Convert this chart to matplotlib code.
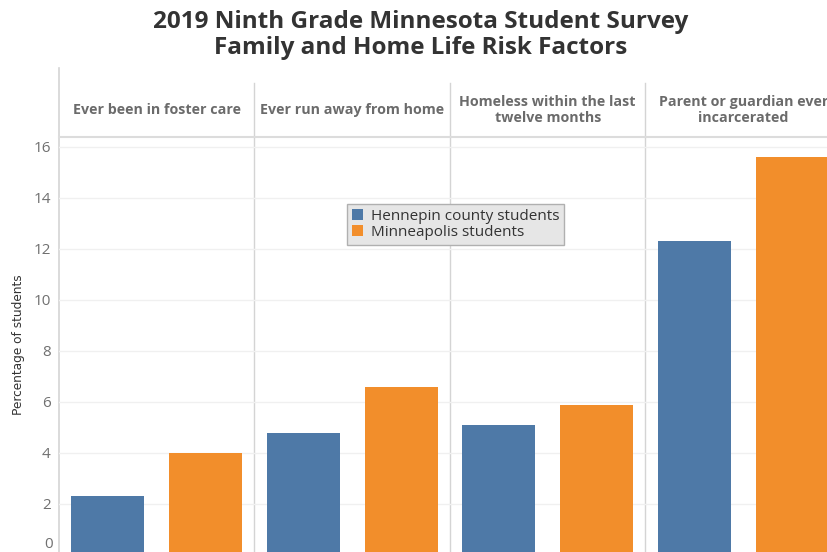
import matplotlib.pyplot as plt
import numpy as np

categories = [
    "Ever been in foster care",
    "Ever run away from home",
    "Homeless within the last\ntwelve months",
    "Parent or guardian ever\nincarcerated",
]
hennepin = [2.3, 4.8, 5.1, 12.3]
minneapolis = [4.0, 6.6, 5.9, 15.6]
series_names = ["Hennepin county students", "Minneapolis students"]
yticks = [0, 2, 4, 6, 8, 10, 12, 14, 16]
title_lines = ["2019 Ninth Grade Minnesota Student Survey",
               "Family and Home Life Risk Factors"]

BLUE = "#4e79a7"
ORANGE = "#f28e2b"
W, H = 828, 552

fig = plt.figure(figsize=(W / 100, H / 100), dpi=100)
# axes runs past the right and bottom edge, the reference is cropped there
left, right, top, bottom = 59, 841, 137, 555
ax = fig.add_axes([left / W, (H - bottom) / H, (right - left) / W, (bottom - top) / H])

x = np.arange(len(categories))
bw = 0.374
ax.bar(x + 0.25, hennepin, width=bw, color=BLUE, label=series_names[0], zorder=3)
ax.bar(x + 0.75, minneapolis, width=bw, color=ORANGE, label=series_names[1], zorder=3)

ymax = 16.39
ax.set_xlim(0, len(categories))
ax.set_ylim(0, ymax)
ax.set_xticks([])
ax.set_yticks(yticks)
# the zero label sits below the crop, draw it a bit higher by hand
ax.set_yticklabels([""] + [str(t) for t in yticks[1:]], fontsize=11, color="#707070",
                   family="Open Sans")
ax.annotate("0", xy=(0, 0), xycoords=("axes fraction", "data"), xytext=(-6, 11),
            textcoords="offset pixels", ha="right", va="center", fontsize=11,
            color="#707070", family="Open Sans", annotation_clip=False)
ax.tick_params(axis="y", length=0, pad=6)
ax.yaxis.grid(True, color="#f0f0f0", lw=1, zorder=0)
for s in ax.spines.values():
    s.set_visible(False)

# panel dividers and header frame
span = bottom - top
for i in range(1, len(categories)):
    ax.axvline(i, ymin=0, ymax=(bottom - 83) / span, color="#d4d4d4",
               lw=1, clip_on=False, zorder=1)
ax.axvline(0, ymin=0, ymax=(bottom - 68) / span, color="#d4d4d4",
           lw=1.2, clip_on=False, zorder=1)
ax.axhline(ymax, color="#dcdcdc", lw=1.5, clip_on=False)

for i, cat in enumerate(categories):
    ax.text(i + 0.5, (bottom - 110) / span, cat, transform=ax.get_xaxis_transform(),
            ha="center", va="center", fontsize=10.3, fontweight="bold", color="#6b6b6b",
            family="Open Sans", linespacing=1.1, clip_on=False)

ax.set_ylabel("Percentage of students", fontsize=8.7, color="#333333",
              family="Liberation Sans Narrow")
ax.yaxis.set_label_coords(-34 / (right - left), (bottom - 345) / span)

for line, base in zip(title_lines, [28, 54]):
    fig.text(421 / W, 1 - base / H, line, ha="center", va="baseline",
             fontsize=17.5, fontweight="bold", color="#333333", family="Open Sans")

leg = ax.legend(loc="upper left", bbox_to_anchor=((347 - left) / (right - left), (bottom - 204) / span),
                frameon=True, handlelength=0.75, handleheight=0.75,
                handletextpad=0.5, borderpad=0.3, labelspacing=0.1, fancybox=False,
                borderaxespad=0, prop={"family": "Open Sans", "size": 11})
leg.get_frame().set_facecolor("#e6e6e6")
leg.get_frame().set_edgecolor("#b0b0b0")
leg.get_frame().set_alpha(1)
for t in leg.get_texts():
    t.set_color("#333333")

fig.savefig("out.png", dpi=100)
